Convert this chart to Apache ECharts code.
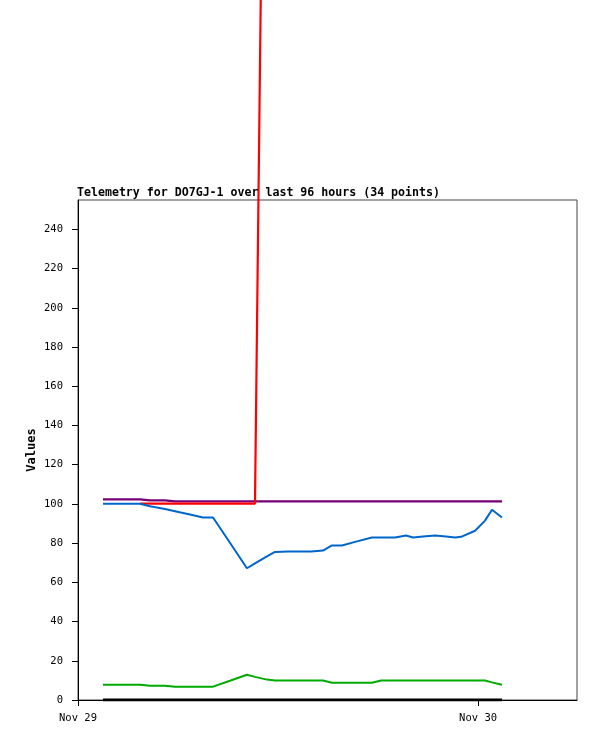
<!DOCTYPE html>
<html>
<head>
<meta charset="utf-8">
<script src="https://cdn.jsdelivr.net/npm/echarts@6/dist/echarts.min.js"></script>
<style>
html,body{margin:0;padding:0;background:#fff;}
#chart{width:597px;height:741px;}
</style>
</head>
<body>
<div id="chart"></div>
<script>
// ---- data ----
const times = ["11-29 01:30","11-29 03:00","11-29 03:43","11-29 04:19","11-29 05:13","11-29 05:49",
  "11-29 06:43","11-29 07:30","11-29 08:06","11-29 09:07","11-29 10:08","11-29 10:37","11-29 11:20",
  "11-29 11:49","11-29 12:36","11-29 13:59","11-29 14:42","11-29 15:14","11-29 15:50","11-29 16:44",
  "11-29 17:38","11-29 18:11","11-29 19:01","11-29 19:41","11-29 20:06","11-29 20:42","11-29 21:25",
  "11-29 22:05","11-29 22:37","11-29 22:59","11-29 23:49","11-30 00:25","11-30 00:50","11-30 01:26"];
const blueValues = [100.1,100.1,100.1,98.8,97.4,96.3,94.6,93.1,93.1,80.2,67.2,69.7,73.3,
  75.5,75.7,75.7,76.2,78.8,78.8,80.9,82.9,82.9,82.9,83.9,82.9,83.4,83.9,83.4,82.9,83.2,86.3,91.5,97.0,93.1];
const greenValues = [7.8,7.8,7.8,7.3,7.3,6.8,6.8,6.8,6.8,9.8,12.9,11.8,10.4,9.9,9.9,9.9,9.9,8.8,8.8,8.8,
  8.8,9.9,9.9,9.9,9.9,9.9,9.9,9.9,9.9,9.9,9.9,9.9,9.0,7.8];
const purpleValues = [102.3,102.3,102.3,101.8,101.8,101.3,101.3,101.3,101.3,101.3,101.3,101.3,101.3,
  101.3,101.3,101.3,101.3,101.3,101.3,101.3,101.3,101.3,101.3,101.3,101.3,101.3,101.3,101.3,101.3,101.3,101.3,101.3,101.3,101.3];
const redValues = [null,null,100.2,100.2,100.2,100.2,100.2,100.2,100.2,100.2,100.2,100.2,634,
  636,638,640,641,643,645,646,648,650,651,653,655,656,658,660,661,663,665,666,668,670];
const blackValues = [0,0,0,0,0,0,0,0,0,0,0,0,0,0,0,0,0,0,0,0,0,0,0,0,0,0,0,0,0,0,0,0,0,0];
const yTicks = [0,20,40,60,80,100,120,140,160,180,200,220,240];
const dayTicks = ["11-29","11-30"];
const YEAR = 2024;
const titleText = "Telemetry for DO7GJ-1 over last 96 hours (34 points)";

// ---- helpers ----
const MONTHS = ["Jan","Feb","Mar","Apr","May","Jun","Jul","Aug","Sep","Oct","Nov","Dec"];
function ts(s){
  const [md, hm] = s.split(" ");
  const [mo, d] = md.split("-").map(Number);
  const [h, m] = (hm || "00:00").split(":").map(Number);
  return Date.UTC(YEAR, mo-1, d, h, m);
}
const tms = times.map(ts);
const pairs = vals => tms.map((t,i) => [t, vals[i]]);
const DAY = 86400000;
const xMin = ts(dayTicks[0]);
const xMax = ts("11-30 05:56");

const chart = echarts.init(document.getElementById('chart'), null, {renderer:'canvas'});
const mono = "'DejaVu Sans Mono', 'Liberation Mono', monospace";
chart.setOption({
  animation:false,
  backgroundColor:'#ffffff',
  title:{
    text:titleText, left:72, top:182,
    textStyle:{fontFamily:mono, fontSize:11.6, fontWeight:'bold', color:'#000'}
  },
  grid:{left:78, top:200, width:499, height:500, show:true, borderColor:'#444', borderWidth:1, backgroundColor:'transparent'},
  xAxis:{
    type:'value', min:xMin, max:xMax, interval:DAY,
    axisLine:{show:true, lineStyle:{color:'#000', width:1}},
    axisTick:{show:true, length:6, lineStyle:{color:'#000'}, customValues:dayTicks.map(ts)},
    axisLabel:{
      customValues:dayTicks.map(ts),
      margin:13, color:'#000', fontFamily:mono, fontSize:10.5,
      formatter:v=>{const d=new Date(v); return MONTHS[d.getUTCMonth()]+' '+d.getUTCDate();}
    },
    splitLine:{show:false}
  },
  yAxis:{
    type:'value', min:0, max:255, interval:20,
    name:'Values', nameLocation:'middle', nameGap:40, nameMoveOverlap:false,
    nameTextStyle:{fontFamily:mono, fontSize:12, fontWeight:'bold', color:'#000'},
    axisLine:{show:true, lineStyle:{color:'#000', width:1}},
    axisTick:{show:true, length:6, lineStyle:{color:'#000'}, customValues:yTicks},
    axisLabel:{customValues:yTicks, margin:15, color:'#000', fontFamily:mono, fontSize:10.5},
    splitLine:{show:false}
  },
  series:[
    {type:'line', data:pairs(purpleValues), symbol:'none', lineStyle:{color:'#760076', width:2.2}, z:2},
    {type:'line', data:pairs(redValues), symbol:'none', clip:false, connectNulls:false, lineStyle:{color:'#ff0000', width:2.2}, z:3},
    {type:'line', data:pairs(blueValues), symbol:'none', lineStyle:{color:'#0066cc', width:2}, z:4},
    {type:'line', data:pairs(greenValues), symbol:'none', lineStyle:{color:'#00aa00', width:2}, z:4},
    {type:'line', data:pairs(blackValues), symbol:'none', lineStyle:{color:'#000000', width:3}, z:5}
  ]
});
</script>
</body>
</html>
